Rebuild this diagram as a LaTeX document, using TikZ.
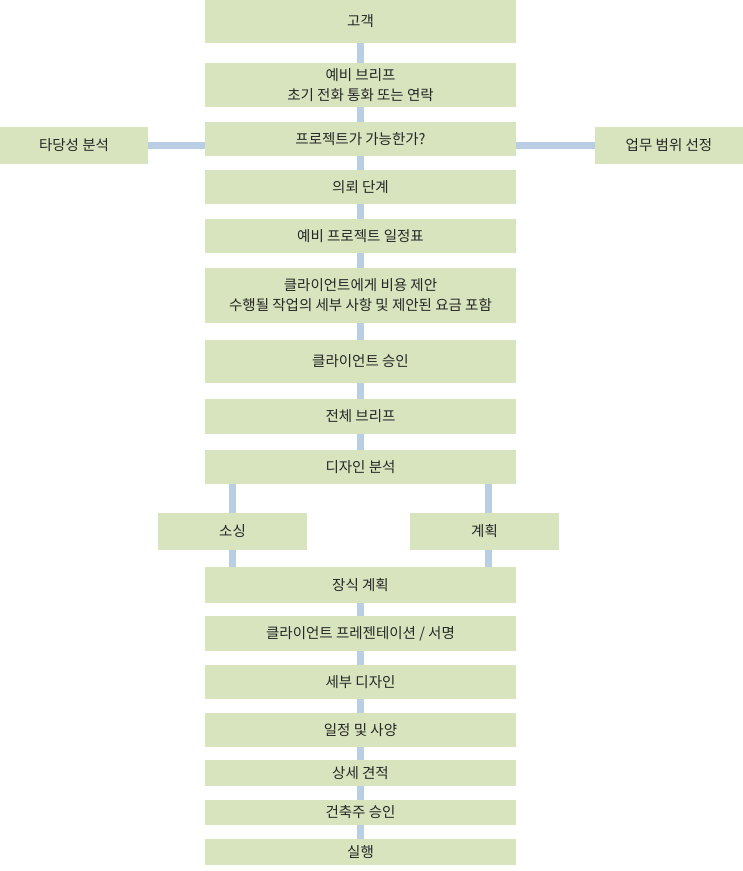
\documentclass[tikz,border=0pt]{standalone}
\usepackage{fontspec}
\setmainfont{Noto Sans CJK KR}
\usetikzlibrary{positioning, calc}

\definecolor{boxgreen}{HTML}{D8E4BE}
\definecolor{linkblue}{HTML}{B9CDE5}
\definecolor{textgray}{HTML}{262626}

\begin{document}
\begin{tikzpicture}[
  x=1pt, y=-1pt,
  font=\fontsize{14.5}{20}\selectfont,
  stage/.style={fill=boxgreen, align=center, text=textgray, inner sep=0pt,
    minimum width=311pt, minimum height=34pt},
  side/.style={stage, minimum width=148pt, minimum height=37pt},
  link/.style={draw=linkblue, line width=6.5pt}
]
\useasboundingbox (0,0) rectangle (743,871);

% --- main column ---
\node[stage, minimum height=43pt] (client) at (360.5,21.5) {고객};
\node[stage, minimum height=44pt] (brief) at (360.5,85) {예비 브리프\\초기 전화 통화 또는 연락};
\node[stage] (feasq) at (360.5,139) {프로젝트가 가능한가?};
\node[stage] (commission) at (360.5,187) {의뢰 단계};
\node[stage] (schedule) at (360.5,236) {예비 프로젝트 일정표};
\node[stage, minimum height=55pt] (proposal) at (360.5,295.5) {클라이언트에게 비용 제안\\수행될 작업의 세부 사항 및 제안된 요금 포함};
\node[stage, minimum height=43pt] (approval) at (360.5,361.5) {클라이언트 승인};
\node[stage, minimum height=35pt] (fullbrief) at (360.5,416.5) {전체 브리프};
\node[stage] (analysis) at (360.5,467) {디자인 분석};

% --- side branches ---
\node[side] (feasibility) at (74,145.5) {타당성 분석};
\node[side] (scope) at (669,145.5) {업무 범위 선정};
\node[side, minimum width=149pt] (sourcing) at (232.5,531.5) {소싱};
\node[side, minimum width=149pt] (planning) at (484.5,531.5) {계획};

% --- lower column ---
\node[stage, minimum height=36pt] (decor) at (360.5,585) {장식 계획};
\node[stage, minimum height=35pt] (present) at (360.5,633.5) {클라이언트 프레젠테이션 / 서명};
\node[stage] (detail) at (360.5,682) {세부 디자인};
\node[stage] (spec) at (360.5,730) {일정 및 사양};
\node[stage, minimum height=26pt] (estimate) at (360.5,773) {상세 견적};
\node[stage, minimum height=25pt] (ownerok) at (360.5,812.5) {건축주 승인};
\node[stage, minimum height=26pt] (execute) at (360.5,852) {실행};

% links down the column
\foreach \a/\b in {client/brief, brief/feasq, feasq/commission, commission/schedule,
    schedule/proposal, proposal/approval, approval/fullbrief, fullbrief/analysis,
    decor/present, present/detail, detail/spec, spec/estimate, estimate/ownerok,
    ownerok/execute}
  \draw[link] (\a.south) -- (\b.north);

% links to the side boxes
\draw[link] (feasq.west |- feasibility.east) -- (feasibility.east);
\draw[link] (feasq.east |- scope.west) -- (scope.west);

% split and rejoin around sourcing / planning
\draw[link] (analysis.south -| sourcing.north) -- (sourcing.north);
\draw[link] (sourcing.south) -- (decor.north -| sourcing.south);
\draw[link] ($(analysis.south -| planning.north)+(4,0)$) -- ($(planning.north)+(4,0)$);
\draw[link] ($(planning.south)+(4,0)$) -- ($(decor.north -| planning.south)+(4,0)$);

\end{tikzpicture}
\end{document}
